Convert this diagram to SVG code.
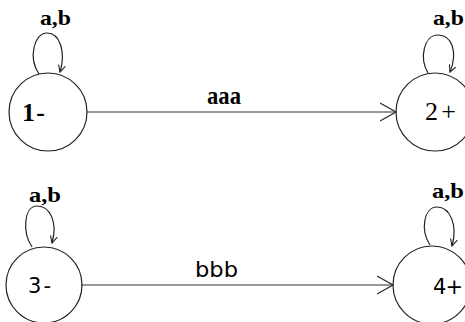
<svg xmlns="http://www.w3.org/2000/svg" width="465" height="322" viewBox="0 0 465 322">
<style>
.st{fill:none;stroke:#222;stroke-width:1.2}
.ln{fill:none;stroke:#333;stroke-width:1.2}
.serif{font-family:"Liberation Serif","Times New Roman",serif;fill:#000}
.sans{font-family:"DejaVu Sans","Liberation Sans",sans-serif;fill:#000}
.lbl{font-size:22px;font-weight:bold}
.nd{font-size:26px}
.nds{font-size:21px}
</style>
<defs>
<marker id="big" markerUnits="userSpaceOnUse" viewBox="0 0 17 20" refX="16" refY="10" markerWidth="17" markerHeight="20" orient="auto">
<path d="M0,1 L16,10 L0,19" fill="none" stroke="#333" stroke-width="1.2"/>
</marker>
<marker id="small" markerUnits="userSpaceOnUse" viewBox="0 0 8 8" refX="7" refY="4" markerWidth="8" markerHeight="8" orient="auto">
<path d="M0,0.5 L7,4 L0,7.5" fill="none" stroke="#222" stroke-width="1.1"/>
</marker>
</defs>
<rect width="465" height="322" fill="#fff"/>
<g id="connectors">
<path class="ln" d="M87,112 L396,112" marker-end="url(#big)"/>
<path class="ln" d="M81,285 L393,285" marker-end="url(#big)"/>
<path class="st" d="M39,74 C28,58 34,33 47,33 C60,33 66,52 60,72" marker-end="url(#small)"/>
<path class="st" d="M428,73 C419,58 424,35 438,35 C452,35 458,52 450,72" marker-end="url(#small)"/>
<path class="st" d="M32,247 C22,232 24,206 37,206 C50,206 58,222 52,243" marker-end="url(#small)"/>
<path class="st" d="M430,245 C420,230 424,207 437,207 C450,207 458,225 452,246" marker-end="url(#small)"/>
<text class="serif" x="207" y="104" font-size="25" font-weight="bold" textLength="34" lengthAdjust="spacingAndGlyphs">aaa</text>
<text class="sans" x="195" y="277" font-size="21" textLength="43" lengthAdjust="spacingAndGlyphs">bbb</text>
<text class="serif lbl" x="40" y="25" textLength="31" lengthAdjust="spacingAndGlyphs">a,b</text>
<text class="serif lbl" x="433" y="25" textLength="31" lengthAdjust="spacingAndGlyphs">a,b</text>
<text class="serif lbl" x="29" y="202" textLength="32" lengthAdjust="spacingAndGlyphs">a,b</text>
<text class="serif lbl" x="432" y="198" textLength="32" lengthAdjust="spacingAndGlyphs">a,b</text>
</g>
<g id="node1">
<circle class="st" cx="48" cy="112" r="39"/>
<text class="serif nd" x="22" y="121" font-weight="bold" textLength="23" lengthAdjust="spacing">1-</text>
</g>
<g id="node2">
<circle class="st" cx="435" cy="112" r="39"/>
<text class="serif nd" x="425" y="120" textLength="31" lengthAdjust="spacing">2+</text>
</g>
<g id="node3">
<circle class="st" cx="44" cy="285" r="38"/>
<text class="sans nds" x="28" y="293" textLength="23" lengthAdjust="spacing">3-</text>
</g>
<g id="node4">
<circle class="st" cx="432" cy="285" r="39"/>
<text class="sans nds" x="433" y="294" textLength="30" lengthAdjust="spacing">4+</text>
</g>
</svg>
